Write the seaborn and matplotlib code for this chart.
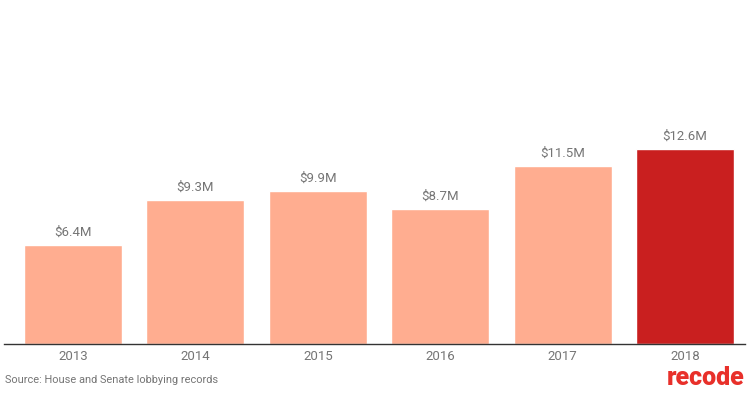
import matplotlib
matplotlib.use("Agg")
import matplotlib.pyplot as plt
import seaborn as sns
import pandas as pd

years = ["2013", "2014", "2015", "2016", "2017", "2018"]
values = [6.4, 9.3, 9.9, 8.7, 11.5, 12.6]
labels = ["$6.4M", "$9.3M", "$9.9M", "$8.7M", "$11.5M", "$12.6M"]
colors = ["#FFAD90", "#FFAD90", "#FFAD90", "#FFAD90", "#FFAD90", "#C91F1F"]

sns.set_theme(style="white")
plt.rcParams["font.family"] = ["Roboto", "DejaVu Sans"]

df = pd.DataFrame({"year": years, "value": values})

fig = plt.figure(figsize=(7.55, 3.94), dpi=100)
ax = fig.add_axes([4 / 755, 50 / 394, 741 / 755, 344 / 394])
sns.barplot(data=df, x="year", y="value", hue="year", palette=colors,
            width=0.8, legend=False, ax=ax, saturation=1)

for i, (v, lab) in enumerate(zip(values, labels)):
    ax.text(i, v + 0.4, lab, ha="center", va="bottom", fontsize=9.5, color="#757575")

ax.set_xlim(-0.564, 5.49)
ax.set_ylim(0, 22.2)
ax.set_xlabel("")
ax.set_ylabel("")
ax.set_yticks([])
for s in ["top", "right", "left"]:
    ax.spines[s].set_visible(False)
ax.spines["bottom"].set_color("#333333")
ax.spines["bottom"].set_linewidth(1)
ax.tick_params(axis="x", length=0, pad=4, labelsize=9.5, labelcolor="#757575")

fig.text(5 / 755, 1 - 380 / 394, "Source: House and Senate lobbying records",
         fontsize=7.9, color="#757575", va="center", ha="left")
fig.text(744 / 755, 1 - 378 / 394, "recode", fontsize=18, fontweight="black",
         color="#E8302A", va="center", ha="right")

fig.savefig("out.png", dpi=100)
